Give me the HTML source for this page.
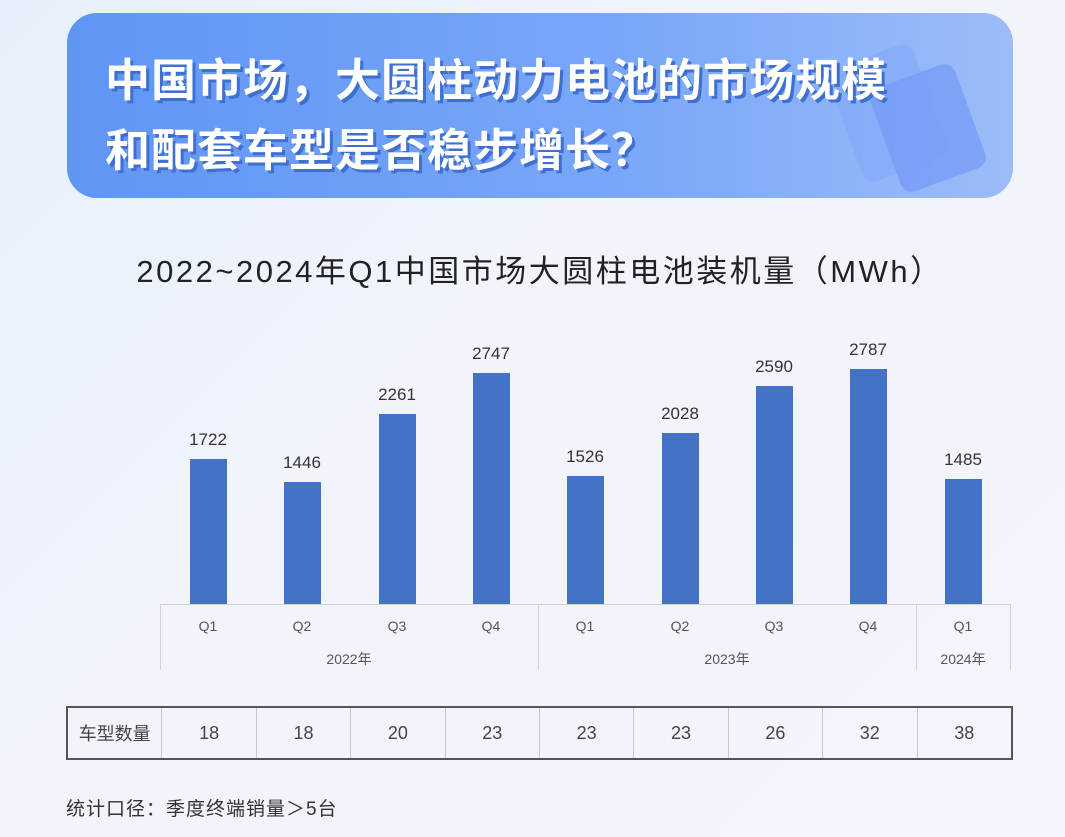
<!DOCTYPE html>
<html><head><meta charset="utf-8"><style>
body{margin:0;width:1065px;height:837px;overflow:hidden;background:linear-gradient(135deg,#e6effb 0%,#f1f4fb 40%,#f3f5fc 100%);font-family:"Liberation Sans","Noto Sans CJK SC",sans-serif;position:relative}
.banner{position:absolute;left:67px;top:13px;width:946px;height:185px;border-radius:30px;background:linear-gradient(90deg,#5f95f5 0%,#7aa7f8 60%,#9cbcf9 100%)}
.t{position:absolute;left:105px;color:#fff;font-size:45px;font-weight:bold;text-shadow:3px 3px 0 #3f6fd0;letter-spacing:1px;white-space:nowrap}
.ct{position:absolute;left:0;width:1080px;text-align:center;top:246px;font-size:31px;letter-spacing:2.5px;color:#222}
.bar{position:absolute;width:37px;background:#4472c4}
.v{position:absolute;width:80px;text-align:center;font-size:17px;color:#333}
.q{position:absolute;width:60px;text-align:center;font-size:14px;color:#555}
.vl{position:absolute;width:1px;background:#d0d3da;top:604px;height:66px}
table{position:absolute;left:66px;top:706px;border-collapse:collapse;border:2px solid #555}
td{border:1px solid #c8c8cc;height:50px;width:93.4px;text-align:center;font-size:18px;color:#444;padding:0}
</style></head><body>
<div class="banner">
<div style="position:absolute;right:40px;top:60px;width:90px;height:110px;border-radius:12px;background:rgba(80,120,240,.35);transform:rotate(-20deg)"></div>
<div style="position:absolute;right:80px;top:40px;width:90px;height:120px;border-radius:12px;background:rgba(120,160,250,.35);transform:rotate(-20deg)"></div>
</div>
<div class="t" style="top:44px">中国市场，大圆柱动力电池的市场规模</div>
<div class="t" style="top:114px">和配套车型是否稳步增长？</div>
<div class="ct">2022~2024年Q1中国市场大圆柱电池装机量（MWh）</div>
<div style="position:absolute;left:160px;top:604px;width:850px;height:1px;background:#d0d3da"></div>
<div class="vl" style="left:160px"></div><div class="vl" style="left:538px"></div><div class="vl" style="left:916px"></div><div class="vl" style="left:1010px"></div>
<div class="bar" style="left:190px;top:459px;height:145px"></div><div class="v" style="left:168px;top:430px">1722</div>
<div class="bar" style="left:284px;top:482px;height:122px"></div><div class="v" style="left:262px;top:453px">1446</div>
<div class="bar" style="left:379px;top:414px;height:190px"></div><div class="v" style="left:357px;top:385px">2261</div>
<div class="bar" style="left:473px;top:373px;height:231px"></div><div class="v" style="left:451px;top:344px">2747</div>
<div class="bar" style="left:567px;top:476px;height:128px"></div><div class="v" style="left:545px;top:447px">1526</div>
<div class="bar" style="left:662px;top:433px;height:171px"></div><div class="v" style="left:640px;top:404px">2028</div>
<div class="bar" style="left:756px;top:386px;height:218px"></div><div class="v" style="left:734px;top:357px">2590</div>
<div class="bar" style="left:850px;top:369px;height:235px"></div><div class="v" style="left:828px;top:340px">2787</div>
<div class="bar" style="left:945px;top:479px;height:125px"></div><div class="v" style="left:923px;top:450px">1485</div>
<div class="q" style="left:178px;top:618px">Q1</div><div class="q" style="left:272px;top:618px">Q2</div><div class="q" style="left:367px;top:618px">Q3</div><div class="q" style="left:461px;top:618px">Q4</div>
<div class="q" style="left:555px;top:618px">Q1</div><div class="q" style="left:650px;top:618px">Q2</div><div class="q" style="left:744px;top:618px">Q3</div><div class="q" style="left:838px;top:618px">Q4</div>
<div class="q" style="left:933px;top:618px">Q1</div>
<div class="q" style="left:319px;top:649px">2022年</div><div class="q" style="left:697px;top:649px">2023年</div><div class="q" style="left:933px;top:649px">2024年</div>
<table><tr><td>车型数量</td><td>18</td><td>18</td><td>20</td><td>23</td><td>23</td><td>23</td><td>26</td><td>32</td><td>38</td></tr></table>
<div style="position:absolute;left:66px;top:794px;font-size:19px;letter-spacing:1px;color:#333">统计口径：季度终端销量＞5台</div>
</body></html>
